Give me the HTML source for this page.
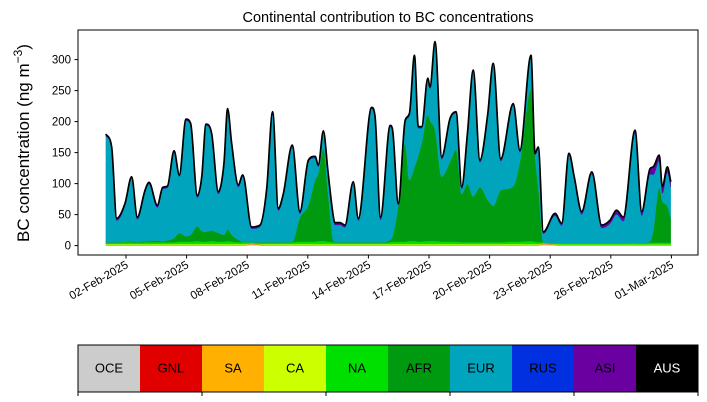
<!DOCTYPE html>
<html><head><meta charset="utf-8"><style>
body{margin:0;background:#fff;}
svg{display:block;font-family:"Liberation Sans","DejaVu Sans",sans-serif;}
</style></head><body>
<svg id="chart" width="707" height="402" viewBox="0 0 707 402">
<text x="388" y="22" font-size="14.5" text-anchor="middle">Continental contribution to BC concentrations</text>
<text transform="translate(29,143) rotate(-90)" font-size="17" text-anchor="middle">BC concentration (ng m<tspan dy="-7" font-size="12">−3</tspan><tspan dy="7">)</tspan></text>
<g id="areas"></g>
<g id="yaxis"></g>
<g id="xaxis"></g>
<rect x="78" y="30" width="620" height="225" fill="none" stroke="#000" stroke-width="1"/>
<g id="legend"></g>
</svg>
<script>
const times=[0,0.29,0.54,0.95,1.28,1.56,1.94,2.14,2.55,2.82,
3.05,3.38,3.64,3.97,4.2,4.53,4.75,4.96,5.24,5.57,
5.85,6.03,6.23,6.56,6.78,7.22,7.63,7.96,8.26,8.54,
8.79,9.23,9.61,10.03,10.36,10.52,10.77,11.0,11.25,11.34,
11.6,11.84,12.25,12.5,13.16,13.33,13.6,14.08,14.2,14.48,
14.82,15.03,15.28,15.47,15.64,15.94,16.05,16.3,16.63,17.04,
17.34,17.62,17.9,18.19,18.52,18.9,19.18,19.55,20.17,20.5,
21.05,21.25,21.41,21.66,22.24,22.57,22.93,23.19,23.56,24.06,
24.55,24.96,25.29,25.62,26.2,26.53,26.94,27.1,27.4,27.55,
27.8,27.97];
const total=[180,159,44,68,111,46,89,102,65,94,
96,153,114,204,197,81,111,196,181,87,
133,221,165,98,114,30,33,90,216,60,
84,162,55,138,144,130,185,119,50,37,
37,33,103,44,223,208,46,194,186,68,
202,213,307,192,192,270,256,329,143,205,
216,95,180,283,138,210,294,140,229,154,
307,149,159,22,52,36,149,111,55,119,
33,41,57,46,186,55,124,127,146,95,
127,103];
const afr=[1,1,1,1,2,1,2,2,3,2,
3,7,14,9,11,24,17,16,17,14,
11,19,11,4,1,0,1,1,1,1,
1,1,39,59,99,109,149,79,4,1,
1,1,1,1,1,1,1,4,9,59,
158,99,119,139,159,204,194,179,105,129,
148,78,94,74,89,69,59,84,89,129,
244,139,89,0,0,0,0,0,0,0,
0,0,0,0,0,0,2,19,89,67,
59,39];
const na=[2,2,2,3,3,2,3,3,3,3,
3,3,4,4,4,5,4,4,5,4,
4,5,4,3,3,2,2,2,2,2,
2,3,4,4,4,5,5,4,3,2,
2,2,2,2,2,2,2,3,4,4,
4,5,5,4,4,5,5,5,4,4,
4,3,3,3,3,3,3,3,4,4,
5,4,3,2,2,2,2,2,2,2,
2,2,2,2,3,2,3,3,3,3,
3,3];
const ca=[1,1,1,1,1,1,1,1,1,1,
1,1,1,1,1,1,1,1,1,1,
1,1,1,1,1,0.5,0.5,1,1,1,
1,1,1,1,1,1,1,1,1,1,
1,1,1,1,1,1,1,1,1,1,
1,1,1,1,1,1,1,1,1,1,
1,1,1,1,1,1,1,1,1,1,
1,1,1,0.5,0.5,0.5,0.5,0.5,0.5,0.5,
0.5,0.5,0.5,0.5,0.5,0.5,0.5,0.5,0.5,0.5,
0.5,0.5];
const sa=[0.5,0.5,0.5,0.5,0.5,0.5,0.5,0.5,0.5,0.5,
0.5,0.5,0.5,0.5,0.5,0.5,0.5,0.5,0.5,0.5,
0.5,0.5,0.5,0.5,0.5,0.5,0.5,0.5,0.5,0.5,
0.5,0.5,0.5,0.5,0.5,0.5,0.5,0.5,0.5,0.5,
0.5,0.5,0.5,0.5,0.5,0.5,0.5,0.5,0.5,0.5,
0.5,0.5,0.5,0.5,0.5,0.5,0.5,0.5,0.5,0.5,
0.5,0.5,0.5,0.5,0.5,0.5,0.5,0.5,0.5,0.5,
0.5,0.5,0.5,0.5,0.5,0.5,0.5,0.5,0.5,0.5,
0.5,0.5,0.5,0.5,0.5,0.5,0.5,0.5,0.5,0.5,
0.5,0.5];
const gnl=[0.3,0.3,0.3,0.3,0.3,0.3,0.3,0.3,0.3,0.3,
0.3,0.3,0.3,0.3,0.3,0.3,0.3,0.3,0.3,0.3,
0.3,0.3,0.3,0.3,0.3,0.3,0.3,0.3,0.3,0.3,
0.3,0.3,0.3,0.3,0.3,0.3,0.3,0.3,0.3,0.3,
0.3,0.3,0.3,0.3,0.3,0.3,0.3,0.3,0.3,0.3,
0.3,0.3,0.3,0.3,0.3,0.3,0.3,0.3,0.3,0.3,
0.3,0.3,0.3,0.3,0.3,0.3,0.3,0.3,0.3,0.3,
0.3,0.3,0.3,0.3,0.3,0.3,0.3,0.3,0.3,0.3,
0.3,0.3,0.3,0.3,0.3,0.3,0.3,0.3,0.3,0.3,
0.3,0.3];
const oce=[0.5,0.5,0.5,0.5,0.5,0.5,0.5,0.5,0.5,0.5,
0.5,0.5,0.5,0.5,0.5,0.5,0.5,0.5,0.5,0.5,
0.5,0.5,0.5,0.5,0.5,2,1,0.5,0.5,0.5,
0.5,0.5,0.5,0.5,0.5,0.5,0.5,0.5,0.5,0.5,
0.5,0.5,0.5,0.5,0.5,0.5,0.5,0.5,0.5,0.5,
0.5,0.5,0.5,0.5,0.5,0.5,0.5,0.5,0.5,0.5,
0.5,0.5,0.5,0.5,0.5,0.5,0.5,0.5,0.5,0.5,
0.5,0.5,0.5,2,1,0.5,0.5,0.5,0.5,0.5,
0.5,0.5,0.5,0.5,0.5,0.5,0.5,0.5,0.5,0.5,
0.5,0.5];
const rus=[0.5,0.5,0.5,0.5,0.5,0.5,0.5,0.5,0.5,0.5,
0.5,0.5,0.5,0.5,0.5,0.5,0.5,0.5,0.5,0.5,
0.5,0.5,0.5,0.5,0.5,0.5,0.5,0.5,0.5,0.5,
0.5,0.5,0.5,0.5,0.5,0.5,0.5,0.5,0.5,0.5,
0.5,0.5,0.5,0.5,0.5,0.5,0.5,0.5,0.5,0.5,
0.5,0.5,0.5,0.5,0.5,0.5,0.5,0.5,0.5,0.5,
0.5,0.5,0.5,0.5,0.5,0.5,0.5,0.5,0.5,0.5,
0.5,0.5,0.5,0.5,0.5,0.5,0.5,0.5,0.5,0.5,
0.5,0.5,0.5,0.5,0.5,0.5,0.5,0.5,0.5,0.5,
0.5,0.5];
const asi=[2,2,3,2,2,3,2,2,3,2,
2,2,2,2,2,3,2,2,2,3,
2,2,2,3,2,2,2,2,2,3,
2,2,3,2,2,2,2,2,2,3,
3,3,2,3,2,2,4,2,2,3,
2,2,2,2,2,2,2,2,3,2,
2,3,2,2,3,2,2,3,2,3,
2,2,2,2,3,3,2,3,4,3,
4,5,6,6,4,6,8,12,8,10,
8,8];
const aus=[0.3,0.3,0.3,0.3,0.3,0.3,0.3,0.3,0.3,0.3,
0.3,0.3,0.3,0.3,0.3,0.3,0.3,0.3,0.3,0.3,
0.3,0.3,0.3,0.3,0.3,0.3,0.3,0.3,0.3,0.3,
0.3,0.3,0.3,0.3,0.3,0.3,0.3,0.3,0.3,0.3,
0.3,0.3,0.3,0.3,0.3,0.3,0.3,0.3,0.3,0.3,
0.3,0.3,0.3,0.3,0.3,0.3,0.3,0.3,0.3,0.3,
0.3,0.3,0.3,0.3,0.3,0.3,0.3,0.3,0.3,0.3,
0.3,0.3,0.3,0.3,0.3,0.3,0.3,0.3,0.3,0.3,
0.3,0.3,0.3,0.3,0.3,0.3,0.3,0.3,0.3,0.3,
0.3,0.3];
const yTicks=[0,50,100,150,200,250,300];
const xTickDays=[1,4,7,10,13,16,19,22,25,28];
const xTickLabels=["02-Feb-2025","05-Feb-2025","08-Feb-2025","11-Feb-2025","14-Feb-2025","17-Feb-2025","20-Feb-2025","23-Feb-2025","26-Feb-2025","01-Mar-2025"];
const regions=["OCE","GNL","SA","CA","NA","AFR","EUR","RUS","ASI","AUS"];
const regionColors=["#cccccc","#e00000","#ffb000","#ccff00","#00e000","#009a10","#00a5bd","#0030e0","#6a00a0","#000000"];

const NS="http://www.w3.org/2000/svg";
const xS=t=>105.8+t*20.2;
const yS=v=>245.6-v*0.62;
function mk(tag,attrs,parent){const e=document.createElementNS(NS,tag);for(const k in attrs)e.setAttribute(k,attrs[k]);parent.appendChild(e);return e;}

// monotone cubic path through points (continuing an existing path with C segments)
function monoSeg(xs,ys){
  const m=xs.length,d=[],t=[];
  for(let i=0;i<m-1;i++)d.push((ys[i+1]-ys[i])/(xs[i+1]-xs[i]));
  for(let i=0;i<m;i++){
    if(i===0)t.push(d[0]);else if(i===m-1)t.push(d[m-2]);
    else t.push(d[i-1]*d[i]<=0?0:(d[i-1]+d[i])/2);
  }
  for(let i=0;i<m-1;i++){
    if(d[i]===0){t[i]=0;t[i+1]=0;continue;}
    const a=t[i]/d[i],b=t[i+1]/d[i],s=a*a+b*b;
    if(s>9){const k=3/Math.sqrt(s);t[i]=k*a*d[i];t[i+1]=k*b*d[i];}
  }
  let p="";
  for(let i=0;i<m-1;i++){
    const h=(xs[i+1]-xs[i])/3;
    p+=`C${(xs[i]+h).toFixed(2)},${(ys[i]+t[i]*h).toFixed(2)} ${(xs[i+1]-h).toFixed(2)},${(ys[i+1]-t[i+1]*h).toFixed(2)} ${xs[i+1].toFixed(2)},${ys[i+1].toFixed(2)}`;
  }
  return p;
}

const n=times.length;
const others=[oce,gnl,sa,ca,na,afr,rus,asi,aus];
const eur=times.map((_,i)=>{let s=0;others.forEach(a=>s+=(a[i]||0));return Math.max(0,total[i]-s);});
const layers=[oce,gnl,sa,ca,na,afr,eur,rus,asi,aus];
const areasG=document.getElementById('areas');
const X=times.map(xS);
const Xr=X.slice().reverse();
let base=times.map(()=>0);
layers.forEach((arr,li)=>{
  const top=base.map((b,i)=>b+(arr[i]||0));
  const Yt=top.map(yS), Yb=base.map(yS).reverse();
  let d=`M${X[0].toFixed(2)},${Yt[0].toFixed(2)}`+monoSeg(X,Yt);
  d+=`L${Xr[0].toFixed(2)},${Yb[0].toFixed(2)}`;
  // reversed: x decreasing; use negated x for monotone calc
  const negX=Xr.map(v=>-v);
  d+=monoSeg(negX,Yb).replace(/C([^C]+)/g,(m,g)=>"C"+g.trim().split(" ").map(pt=>{const [a,b]=pt.split(",");return (-parseFloat(a)).toFixed(2)+","+b;}).join(" "));
  d+="Z";
  const p=mk('path',{d:d,fill:regionColors[li],stroke:regionColors[li],'stroke-width':0.3},areasG);
  
  
  base=top;
});
const Yt=total.map(yS);
const tl=mk('path',{d:`M${X[0].toFixed(2)},${Yt[0].toFixed(2)}`+monoSeg(X,Yt),fill:"none",stroke:"#000","stroke-width":1.7,"stroke-linejoin":"round"},areasG);



const yG=document.getElementById('yaxis');
yTicks.forEach(v=>{
  const y=yS(v);
  const l=mk('line',{x1:74.5,x2:78,y1:y,y2:y,stroke:"#000","stroke-width":1},yG);
  
  
  const tx=mk('text',{x:71,y:y+4,"font-size":11.5,"text-anchor":"end"},yG);
  tx.textContent=v;
  
  
});
const xG=document.getElementById('xaxis');
xTickDays.forEach((d,i)=>{
  const x=xS(d);
  const l=mk('line',{x1:x,x2:x,y1:255,y2:258.5,stroke:"#000","stroke-width":1},xG);
  
  
  const tx=mk('text',{transform:`translate(${x+3},${267}) rotate(-30)`,"font-size":11.5,"text-anchor":"end"},xG);
  tx.textContent=xTickLabels[i];
  
  
});

const lg=document.getElementById('legend');
const segW=62;
regions.forEach((r,i)=>{
  const x=78+i*segW;
  const rc=mk('rect',{x:x,y:345,width:segW,height:47,fill:regionColors[i]},lg);
  
  
  const tx=mk('text',{x:x+segW/2,y:372.5,"font-size":13,"text-anchor":"middle",fill:r==="AUS"?"#fff":"#000"},lg);
  tx.textContent=r;
  
  
});
const fr=mk('rect',{x:78,y:345,width:620,height:47,fill:"none",stroke:"#000","stroke-width":1},lg);


for(let i=0;i<=5;i++){
  const x=78+i*124;
  const l=mk('line',{x1:x,x2:x,y1:392,y2:396,stroke:"#000","stroke-width":1},lg);
  
  
}
</script>
</body></html>
